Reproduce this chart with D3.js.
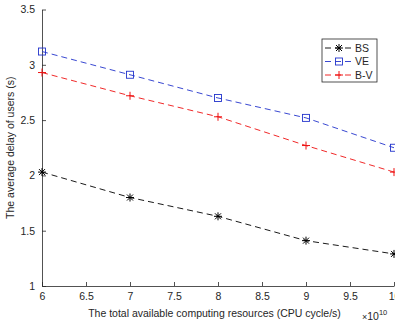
<!DOCTYPE html>
<html>
<head>
<meta charset="utf-8">
<script src="https://cdn.jsdelivr.net/npm/d3@7"></script>
<style>
  body { margin: 0; background: #fff; }
  svg { display: block; font-family: "Liberation Sans", Arial, sans-serif; }
</style>
</head>
<body>
<svg id="chart" width="395" height="324"></svg>
<script>
const xValues = [6, 7, 8, 9, 10];
const seriesNames = ["BS", "VE", "B-V"];
const bsValues = [2.03, 1.80, 1.63, 1.41, 1.29];
const veValues = [3.12, 2.91, 2.70, 2.52, 2.25];
const bvValues = [2.93, 2.72, 2.53, 2.27, 2.03];
const xTicks = [6, 6.5, 7, 7.5, 8, 8.5, 9, 9.5, 10];
const yTicks = [1, 1.5, 2, 2.5, 3, 3.5];

const series = [
  { name: seriesNames[0], values: bsValues, color: "#000000", marker: "star" },
  { name: seriesNames[1], values: veValues, color: "#2233cc", marker: "square" },
  { name: seriesNames[2], values: bvValues, color: "#ee1111", marker: "plus" }
];

const svg = d3.select("#chart");
const margin = { left: 42, right: 1, top: 9.5, bottom: 38 };
const width = 395, height = 324;

const x = d3.scaleLinear().domain([6, 10]).range([margin.left, width - margin.right]);
const y = d3.scaleLinear().domain([1, 3.5]).range([height - margin.bottom, margin.top]);

const fmt = d => String(d);

// axes
const xAxis = svg.append("g")
  .attr("transform", `translate(0,${height - margin.bottom})`)
  .call(d3.axisBottom(x).tickValues(xTicks).tickSizeInner(-4).tickSizeOuter(0).tickPadding(7)
    .tickFormat(fmt));
const yAxis = svg.append("g")
  .attr("transform", `translate(${margin.left},0)`)
  .call(d3.axisLeft(y).tickValues(yTicks).tickSizeInner(-4).tickSizeOuter(0).tickPadding(7)
    .tickFormat(fmt));

[xAxis, yAxis].forEach(a => {
  a.selectAll("path, line").attr("stroke", "#262626").attr("stroke-width", 0.8);
  a.selectAll("text").attr("fill", "#262626").attr("font-size", 10.5)
    .attr("font-family", "Liberation Sans, Arial, sans-serif");
});

// axis labels
svg.append("text")
  .attr("x", (margin.left + width) / 2 - 4)
  .attr("y", 317)
  .attr("text-anchor", "middle")
  .attr("font-size", 10.5)
  .attr("fill", "#262626")
  .text("The total available computing resources (CPU cycle/s)");

const expo = svg.append("text")
  .attr("x", 362)
  .attr("y", 320)
  .attr("font-size", 10.5)
  .attr("fill", "#262626");
expo.append("tspan").attr("font-size", 9).text("\u00d7");
expo.append("tspan").text("10");
expo.append("tspan").attr("font-size", 7.5).attr("dy", -5).text("10");

svg.append("text")
  .attr("transform", `translate(14,${(margin.top + height - margin.bottom) / 2}) rotate(-90)`)
  .attr("text-anchor", "middle")
  .attr("font-size", 10.5)
  .attr("fill", "#262626")
  .text("The average delay of users (s)");

// marker drawing
function drawMarker(g, type, color) {
  if (type === "square") {
    g.append("rect").attr("x", -3.5).attr("y", -3.5).attr("width", 7).attr("height", 7)
      .attr("fill", "none").attr("stroke", color).attr("stroke-width", 0.9);
  } else if (type === "plus") {
    g.append("path").attr("d", "M-4,0H4M0,-4V4")
      .attr("stroke", color).attr("stroke-width", 1);
  } else {
    g.append("path").attr("d", "M-4,0H4M0,-4V4M-3,-3L3,3M-3,3L3,-3")
      .attr("stroke", color).attr("stroke-width", 1);
  }
}

const line = d3.line().x((d, i) => x(xValues[i])).y(d => y(d));

series.forEach(s => {
  svg.append("path")
    .datum(s.values)
    .attr("d", line)
    .attr("fill", "none")
    .attr("stroke", s.color)
    .attr("stroke-width", 0.9)
    .attr("stroke-dasharray", "6,4");
  s.values.forEach((v, i) => {
    const g = svg.append("g").attr("transform", `translate(${x(xValues[i])},${y(v)})`);
    drawMarker(g, s.marker, s.color);
  });
});

// legend
const legend = svg.append("g").attr("transform", "translate(322,39)");
legend.append("rect").attr("width", 55).attr("height", 43)
  .attr("fill", "#fff").attr("stroke", "#262626").attr("stroke-width", 0.8);
series.forEach((s, i) => {
  const ly = 9 + i * 13.5;
  legend.append("line").attr("x1", 3).attr("x2", 31).attr("y1", ly).attr("y2", ly)
    .attr("stroke", s.color).attr("stroke-width", 0.9).attr("stroke-dasharray", "6,4");
  const g = legend.append("g").attr("transform", `translate(17,${ly})`);
  drawMarker(g, s.marker, s.color);
  legend.append("text").attr("x", 33).attr("y", ly + 3.8)
    .attr("font-size", 10.5).attr("fill", "#262626").text(s.name);
});
</script>
</body>
</html>
